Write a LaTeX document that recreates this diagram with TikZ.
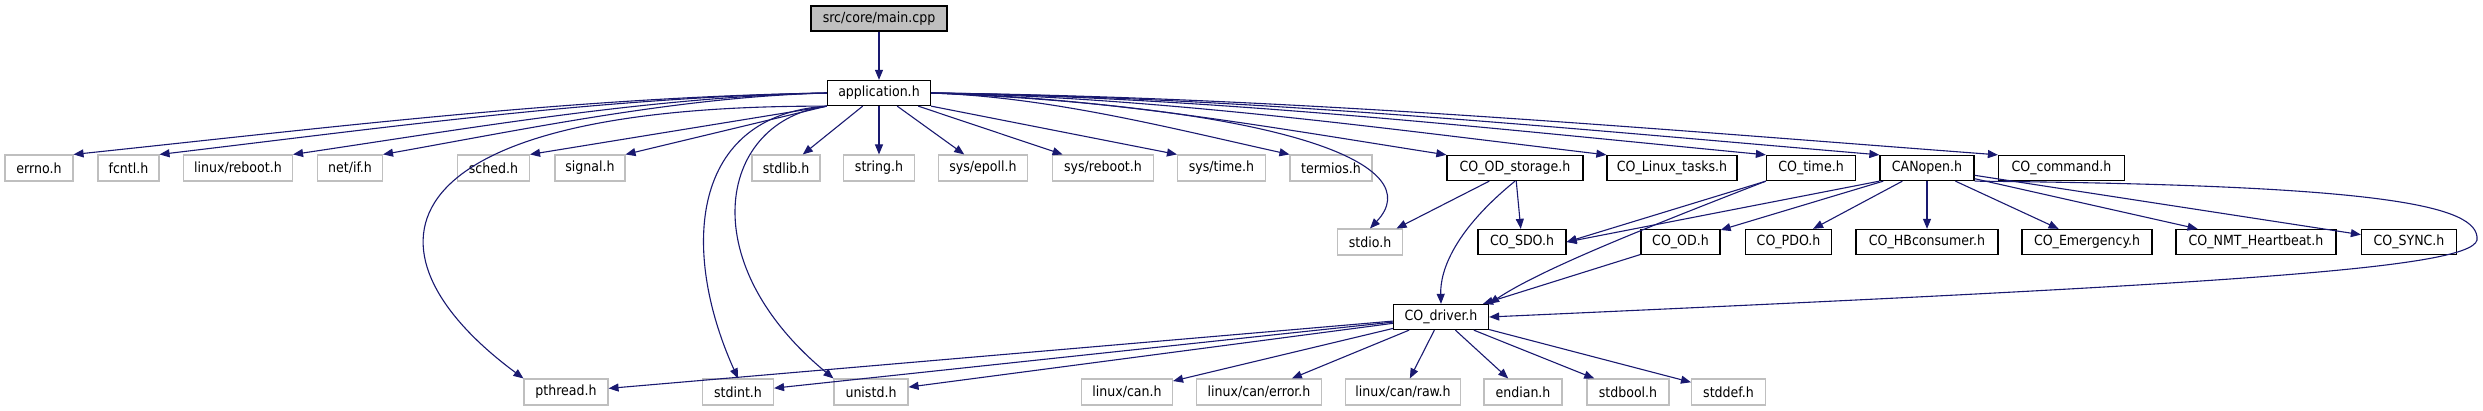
\documentclass[tikz,border=0pt]{standalone}
\usepackage{fontspec}
\setmainfont{DejaVu Sans Condensed}
\usepackage{tikz}
\usetikzlibrary{arrows.meta,positioning}
\definecolor{navyE}{HTML}{191970}
\definecolor{grisB}{HTML}{BFBFBF}
\tikzset{
  proj/.style={rectangle, draw=black, line width=1.3pt, fill=white, inner sep=0pt,
               font=\fontsize{14}{16}\selectfont, minimum height=25pt, minimum width=#1},
  sys/.style={rectangle, draw=grisB, line width=1.1pt, fill=white, inner sep=0pt,
              font=\fontsize{14}{16}\selectfont, minimum height=26pt, minimum width=#1},
  top/.style={proj=#1, fill=grisB},
  edge/.style={-{Triangle[length=10pt,width=8pt]}, line width=1.1pt, draw=navyE},
}
\begin{document}
\begin{tikzpicture}[x=1pt, y=-1pt]
  \useasboundingbox (0,0) rectangle (2483,411);
  \node[top=136pt] (main) at (879,18.5) {src/core/main.cpp};
  \node[proj=103pt] (app) at (879,93) {application.h};
  % rangée des en-têtes inclus par application.h
  \node[sys=68pt] (errno) at (39,168) {errno.h};
  \node[sys=61pt] (fcntl) at (128.5,168) {fcntl.h};
  \node[sys=109pt] (lreboot) at (238,168) {linux/reboot.h};
  \node[sys=65pt] (netif) at (350,168) {net/if.h};
  \node[sys=72pt] (sched) at (493.5,168) {sched.h};
  \node[sys=70pt] (signal) at (590,168) {signal.h};
  \node[sys=68pt] (stdlib) at (786,168) {stdlib.h};
  \node[sys=71pt] (string) at (879,168) {string.h};
  \node[sys=89pt] (epoll) at (983,168) {sys/epoll.h};
  \node[sys=101pt] (sreboot) at (1103,168) {sys/reboot.h};
  \node[sys=88pt] (stime) at (1221.5,168) {sys/time.h};
  \node[sys=82pt] (termios) at (1331,168) {termios.h};
  \node[proj=136pt] (odstor) at (1515,168) {CO\_OD\_storage.h};
  \node[proj=130pt] (ltasks) at (1672,168) {CO\_Linux\_tasks.h};
  \node[proj=89pt] (cotime) at (1811,168) {CO\_time.h};
  \node[proj=94pt] (canopen) at (1927,168) {CANopen.h};
  \node[proj=126pt] (command) at (2061.5,168) {CO\_command.h};
  % troisième rangée
  \node[sys=65pt] (stdio) at (1370,242) {stdio.h};
  \node[proj=88pt] (sdo) at (1522,242) {CO\_SDO.h};
  \node[proj=79pt] (od) at (1680.5,242) {CO\_OD.h};
  \node[proj=86pt] (pdo) at (1788.5,242) {CO\_PDO.h};
  \node[proj=142pt] (hbcons) at (1927,242) {CO\_HBconsumer.h};
  \node[proj=130pt] (emcy) at (2087,242) {CO\_Emergency.h};
  \node[proj=160pt] (nmt) at (2256,242) {CO\_NMT\_Heartbeat.h};
  \node[proj=95pt] (sync) at (2409,242) {CO\_SYNC.h};
  \node[proj=95pt] (driver) at (1441,317) {CO\_driver.h};
  % en-têtes inclus par CO_driver.h
  \node[sys=84pt] (pthread) at (566,392) {pthread.h};
  \node[sys=71pt] (stdint) at (738,392) {stdint.h};
  \node[sys=74pt] (unistd) at (871,392) {unistd.h};
  \node[sys=91pt] (lcan) at (1127,392) {linux/can.h};
  \node[sys=125pt] (lcanerr) at (1259,392) {linux/can/error.h};
  \node[sys=115pt] (lcanraw) at (1403,392) {linux/can/raw.h};
  \node[sys=78pt] (endian) at (1523,392) {endian.h};
  \node[sys=82pt] (stdbool) at (1628,392) {stdbool.h};
  \node[sys=74pt] (stddef) at (1728.5,392) {stddef.h};

  \draw[edge] (main) -- (app);
  \draw[edge] (app.west) .. controls (576,97) and (325,128) .. (errno.north east);
  \draw[edge] (app.west) .. controls (605,97) and (382,128) .. (fcntl.north east);
  \draw[edge] (app.west) .. controls (650,97) and (471,128) .. (lreboot.north east);
  \draw[edge] (app.west) .. controls (680,97) and (531,128) .. (netif.north east);
  \draw[edge] (app.south west) -- (sched.north east); \draw[edge] (app.south west) -- (signal.north east);
  \draw[edge] (app) -- (stdlib); \draw[edge] (app) -- (string); \draw[edge] (app) -- (epoll);
  \draw[edge] (app) -- (sreboot); \draw[edge] (app.south east) -- (stime.north west);
  \draw[edge] (app.east) .. controls (1050,97) and (1170,128) .. (termios.north west);
  \draw[edge] (app.east) .. controls (1102,97) and (1275,128) .. (odstor.north west);
  \draw[edge] (app.east) .. controls (1156,97) and (1381,128) .. (ltasks.north west);
  \draw[edge] (app.east) .. controls (1209,97) and (1487,128) .. (cotime.north west);
  \draw[edge] (app.east) .. controls (1247,97) and (1563,128) .. (canopen.north west);
  \draw[edge] (app.east) .. controls (1286,97) and (1642,128) .. (command.north west);
  \draw[edge] (app.east) .. controls (1290,108) and (1430,165) .. (stdio.north);
  \draw[edge] (app.south west) .. controls (380,105) and (350,250) .. (pthread.north west);
  \draw[edge] (app.south west) .. controls (690,115) and (680,250) .. (stdint.north);
  \draw[edge] (app.south west) .. controls (720,120) and (690,260) .. (unistd.north west);
  \draw[edge] (odstor) -- (stdio); \draw[edge] (odstor) -- (sdo);
  \draw[edge] (odstor.south) .. controls (1455,230) and (1440,270) .. (driver.north);
  \draw[edge] (cotime.south west) -- (sdo.east);
  \draw[edge] (cotime.south west) .. controls (1640,230) and (1540,270) .. (driver.north east);
  \draw[edge] (canopen.south west) -- (sdo.east);
  \draw[edge] (canopen) -- (od); \draw[edge] (canopen) -- (pdo); \draw[edge] (canopen) -- (hbcons);
  \draw[edge] (canopen) -- (emcy); \draw[edge] (canopen) -- (nmt); \draw[edge] (canopen) -- (sync);
  \draw[edge] (canopen.south east) .. controls (2380,185) and (2480,205) .. (2477,240)
                                   .. controls (2470,270) and (2200,285) .. (driver.east);
  \draw[edge] (od) -- (driver);
  \draw[edge] (driver) -- (pthread); \draw[edge] (driver) -- (stdint); \draw[edge] (driver) -- (unistd);
  \draw[edge] (driver) -- (lcan); \draw[edge] (driver) -- (lcanerr); \draw[edge] (driver) -- (lcanraw);
  \draw[edge] (driver) -- (endian); \draw[edge] (driver) -- (stdbool); \draw[edge] (driver) -- (stddef);
\end{tikzpicture}
\end{document}
